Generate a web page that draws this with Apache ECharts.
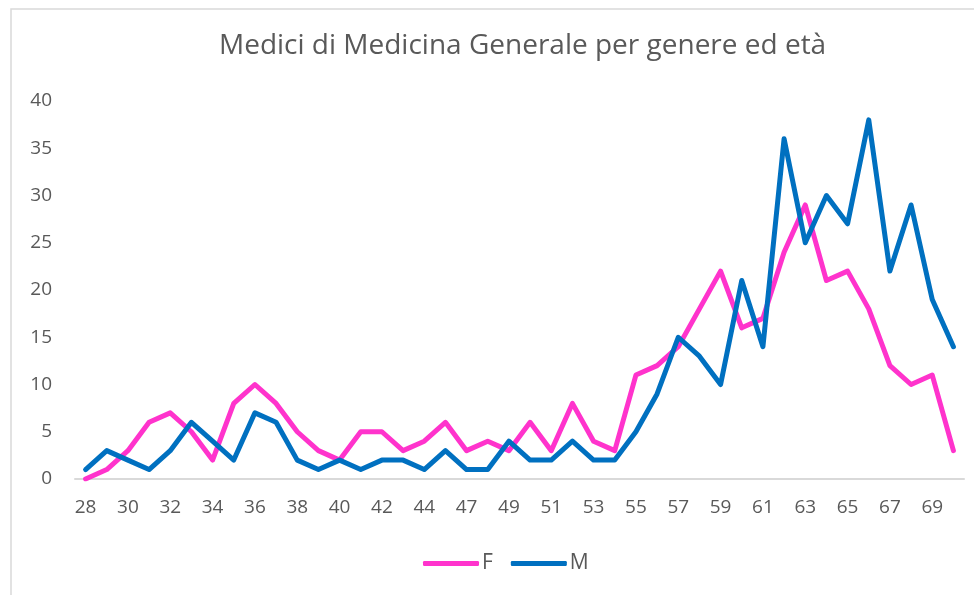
<!DOCTYPE html>
<html>
<head>
<meta charset="utf-8">
<script src="https://cdn.jsdelivr.net/npm/echarts@6/dist/echarts.min.js"></script>
<style>
html,body{margin:0;padding:0;background:#fff;}
#c{width:974px;height:595px;}
</style>
</head>
<body>
<div id="c"></div>
<script>
const ages = ['28','29','30','31','32','33','34','35','36','37','38','39','40','41','42','43','44','45','47','48','49','50','51','52','53','54','55','56','57','58','59','60','61','62','63','64','65','66','67','68','69','70'];
const femmine = [0,1,3,6,7,5,2,8,10,8,5,3,2,5,5,3,4,6,3,4,3,6,3,8,4,3,11,12,14,18,22,16,17,24,29,21,22,18,12,10,11,3];
const maschi = [1,3,2,1,3,6,4,2,7,6,2,1,2,1,2,2,1,3,1,1,4,2,2,4,2,2,5,9,15,13,10,21,14,36,25,30,27,38,22,29,19,14];
const titleText = 'Medici di Medicina Generale per genere ed età';

const chart = echarts.init(document.getElementById('c'), null, {renderer:'canvas'});
const font = 'Open Sans';
chart.setOption({
  animation:false,
  backgroundColor:'#fff',
  graphic:[{type:'rect', shape:{x:11,y:9,width:1000,height:700}, style:{fill:'none', stroke:'#d9d9d9', lineWidth:1.5}, silent:true}],
  title:{text:titleText, left:214, top:27, textStyle:{fontFamily:font, fontSize:28, fontWeight:'normal', color:'#595959'}},
  grid:{left:75, right:10, top:101, bottom:116, containLabel:false},
  legend:{top:548, left:418, itemWidth:56, itemHeight:5, itemGap:18, icon:'roundRect',
    textStyle:{fontFamily:font, fontSize:21, color:'#595959', padding:[0,0,0,-2]}},
  xAxis:{type:'category', data:ages, boundaryGap:true,
    axisLine:{lineStyle:{color:'#d9d9d9', width:2}}, axisTick:{show:false},
    axisLabel:{interval:1, fontFamily:font, fontSize:19, color:'#595959', margin:19}},
  yAxis:{type:'value', min:0, max:40, interval:5, splitLine:{show:false},
    axisLine:{show:false}, axisTick:{show:false},
    axisLabel:{fontFamily:font, fontSize:19, color:'#595959', margin:23}},
  series:[
    {name:'F', type:'line', data:femmine, symbol:'none', color:'#FF33CC',
      lineStyle:{width:5, color:'#FF33CC', cap:'round', join:'round'}},
    {name:'M', type:'line', data:maschi, symbol:'none', color:'#0070C0',
      lineStyle:{width:5, color:'#0070C0', cap:'round', join:'round'}}
  ]
});
</script>
</body>
</html>
